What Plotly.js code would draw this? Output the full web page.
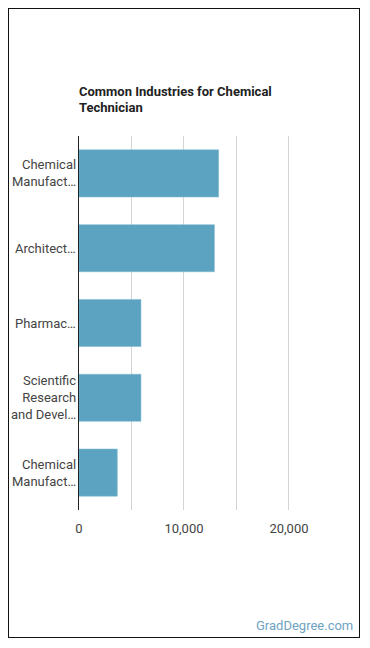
<!DOCTYPE html>
<html>
<head>
<meta charset="utf-8">
<script src="https://cdn.plot.ly/plotly-3.0.1.min.js"></script>
<style>
  html, body { margin: 0; padding: 0; background: #fff; }
  #frame { position: absolute; left: 8px; top: 8px; width: 350px; height: 628px; border: 1px solid #111; }
  #chart { position: absolute; left: 0; top: 0; width: 370px; height: 648px; }
</style>
</head>
<body>
<div id="frame"></div>
<div id="chart"></div>
<script>
// Industries (truncated as shown on the axis) and number of chemical technicians employed
const industryLabels = [
  "Chemical<br>Manufact…",
  "Architect…",
  "Pharmac…",
  "Scientific<br>Research<br>and Devel…",
  "Chemical<br>Manufact…"
];
const employees = [13300, 12900, 5900, 5900, 3650];
const xTickValues = [0, 10000, 20000];
const xTickLabels = ["0", "10,000", "20,000"];

const positions = industryLabels.map((_, i) => i);

const trace = {
  type: "bar",
  orientation: "h",
  x: employees,
  y: positions,
  marker: { color: "#5ca3c1", line: { color: "#7db8d0", width: 0.5 } },
  width: 0.63,
  hoverinfo: "x"
};

// category labels sit just left of the axis line, right aligned
const categoryAnnotations = industryLabels.map((label, i) => ({
  text: label,
  xref: "paper", yref: "y",
  x: 0, y: positions[i],
  xanchor: "right", yanchor: "middle",
  xshift: -1,
  align: "right",
  showarrow: false,
  font: { family: "Roboto, sans-serif", size: 13, color: "#444" }
}));

const layout = {
  width: 370,
  height: 648,
  margin: { l: 79, r: 80.4, t: 135.5, b: 137.5, pad: 0 },
  paper_bgcolor: "rgba(0,0,0,0)",
  plot_bgcolor: "rgba(0,0,0,0)",
  font: { family: "Roboto, 'Open Sans', sans-serif", size: 13, color: "#444" },
  showlegend: false,
  title: {
    text: "<b>Common Industries for Chemical<br>Technician</b>",
    xref: "container", yref: "container",
    x: 79 / 370, xanchor: "left",
    y: 1 - 95.5 / 648, yanchor: "middle",
    font: { family: "Roboto, sans-serif", size: 13, color: "#222" }
  },
  xaxis: {
    range: [0, 20100],
    tickvals: xTickValues,
    ticktext: xTickLabels,
    showgrid: true,
    gridcolor: "#d4d4d4",
    gridwidth: 1,
    minor: { dtick: 5000, tick0: 0, showgrid: true, gridcolor: "#d4d4d4", gridwidth: 1 },
    zeroline: false,
    showline: false,
    ticks: "",
    ticklabelstandoff: 9,
    tickfont: { size: 13, color: "#444" },
    fixedrange: true
  },
  yaxis: {
    tickvals: positions,
    ticktext: industryLabels.map(() => ""),
    range: [4.5, -0.5],
    showgrid: false,
    zeroline: false,
    showline: true,
    linecolor: "#222",
    linewidth: 1.2,
    ticks: "",
    fixedrange: true
  },
  annotations: categoryAnnotations.concat([{
    text: "GradDegree.com",
    xref: "paper", yref: "paper",
    x: (354.5 - 79) / (370 - 79 - 80.4), xanchor: "right",
    y: -(626 - 510.5) / 375, yanchor: "middle",
    showarrow: false,
    font: { family: "Roboto, sans-serif", size: 13, color: "#6fa3c2" }
  }])
};

Plotly.newPlot("chart", [trace], layout, { displayModeBar: false, staticPlot: true });
</script>
</body>
</html>
